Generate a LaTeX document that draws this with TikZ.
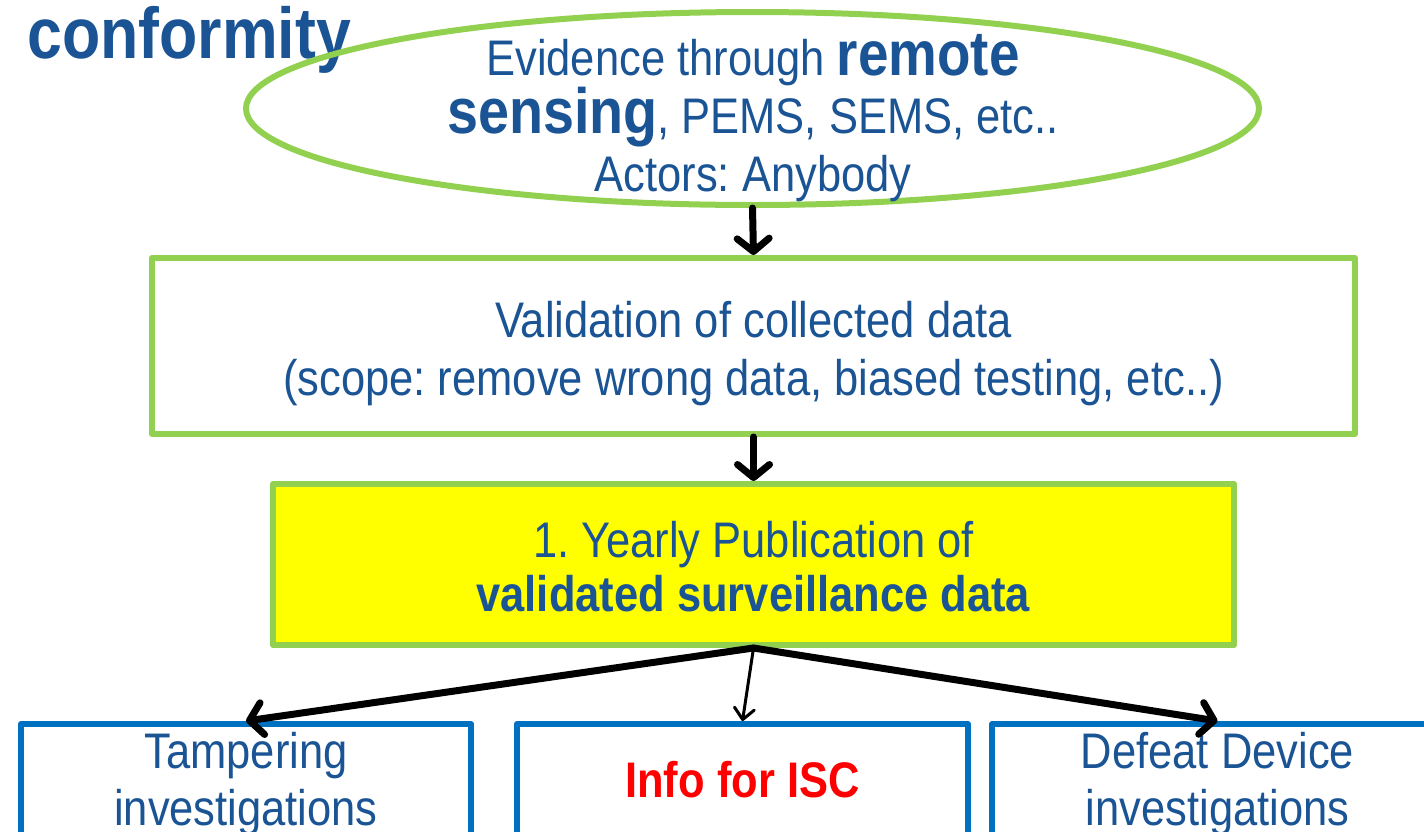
\documentclass[tikz,border=0pt]{standalone}
\usepackage{fontspec}
\setmainfont{Liberation Sans}[FakeStretch=0.87]
\usetikzlibrary{arrows.meta,shapes.geometric}
\definecolor{txtblue}{RGB}{26,84,148}
\definecolor{lgreen}{RGB}{146,208,80}
\definecolor{boxblue}{RGB}{0,112,192}
\definecolor{pubyellow}{RGB}{255,255,0}
\definecolor{iscred}{RGB}{255,0,0}
\frenchspacing
\begin{document}
\begin{tikzpicture}[x=1pt,y=-1pt,
  every node/.style={text=txtblue, align=center, inner sep=0pt},
  greenbox/.style={draw=lgreen, line width=6pt, rectangle, line join=round},
  bluebox/.style={draw=boxblue, line width=6pt, rectangle, line join=round,
    font=\fontsize{50}{57}\selectfont},
  arr/.style={line width=7pt, line cap=round, line join=round,
    -{Straight Barb[length=13pt,width=32pt,line cap=round,line join=round]}},
  thinarr/.style={line width=3pt, line cap=round,
    -{Straight Barb[length=11pt,width=20pt,line cap=round,line join=round]}}]
\useasboundingbox (0,0) rectangle (1424,831);
\clip (0,0) rectangle (1424,831);
\fill[white] (0,0) rectangle (1424,831);

\node[anchor=base west, font=\fontsize{72}{80}\selectfont\bfseries] (title) at (27,58) {conformity};

\node[ellipse, draw=lgreen, line width=6pt, minimum width=1013pt, minimum height=193pt] (ev) at (752.5,108.5) {};
\node[font=\fontsize{50}{58}\selectfont] (evtext) at (753,118)
  {Evidence through \textbf{\fontsize{63}{58}\selectfont remote}\\
   \textbf{\fontsize{64}{58}\selectfont sensing}, PEMS, SEMS, etc..\\
   Actors: Anybody};

\node[greenbox, minimum width=1203pt, minimum height=176pt, font=\fontsize{50}{58}\selectfont] (val) at (753.5,346)
  {\rule{0pt}{52pt}Validation of collected data\\(scope: remove wrong data, biased testing, etc..)};

\node[greenbox, fill=pubyellow, minimum width=961pt, minimum height=161pt, font=\fontsize{50}{54}\selectfont] (pub) at (753.5,564.5)
  {\rule{0pt}{40pt}1. Yearly Publication of\\\textbf{validated surveillance data}};

\node[bluebox, minimum width=450pt, minimum height=120pt] (tam) at (246,784) {Tampering\\investigations};
\node[bluebox, minimum width=451pt, minimum height=112pt] (isc) at (742.5,780) {\textcolor{iscred}{\textbf{Info for ISC}}};
\node[bluebox, minimum width=451pt, minimum height=120pt] (dd) at (1217.5,784) {Defeat Device\\investigations};

\draw[arr] (ev.south) -- (val.north);
\draw[arr] (val.south) -- (pub.north);
\draw[arr] (pub.south) -- (tam.north);
\draw[thinarr] (pub.south) -- (isc.north);
\draw[arr] (pub.south) -- (dd.north);
\end{tikzpicture}
\end{document}
